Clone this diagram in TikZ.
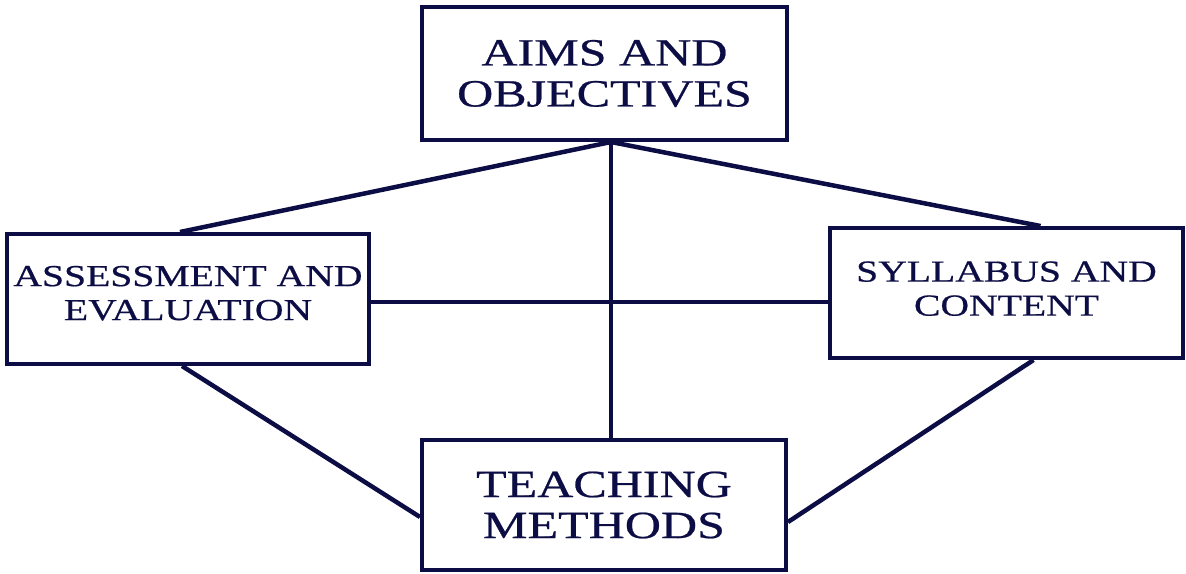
\documentclass[tikz,border=0pt]{standalone}
\usepackage{fontspec}
\setmainfont{Liberation Serif}
\newfontfamily\boxfont[FakeStretch=1.3, FakeBold=0.6]{Liberation Serif}
\usetikzlibrary{positioning}
\definecolor{navy}{HTML}{0D0D45}
% extra depth below a label lifts it inside its box
\newcommand{\lift}[1]{\rule[-#1]{0pt}{#1}}

\begin{document}
\begin{tikzpicture}[x=1pt, y=-1pt,
    box/.style={draw=navy, line width=4pt, text=navy, align=center, inner sep=0pt},
    big/.style={box, font=\boxfont\fontsize{38.5}{41}\selectfont},
    small/.style={box, font=\boxfont\fontsize{30.5}{34}\selectfont},
    link/.style={draw=navy, line width=4.5pt}]
        \useasboundingbox (0,0) rectangle (1186,573);

        \node[big, minimum width=365pt, minimum height=133pt] (aims) at (604.5,73.5) {AIMS AND\\OBJECTIVES};
        \node[small, minimum width=362pt, minimum height=130pt] (assess) at (188,299) {ASSESSMENT AND\\EVALUATION\lift{12pt}};
        \node[small, minimum width=353pt, minimum height=130pt] (syll) at (1006.5,293) {SYLLABUS AND\\CONTENT\lift{9pt}};
        \node[big, minimum width=364pt, minimum height=130pt] (teach) at (604,505) {TEACHING\\METHODS};

        % spokes from the top box
        \draw[link] ([xshift=6.5pt]aims.south) -- ([xshift=-8pt]assess.north);
        \draw[link] ([xshift=6.5pt]aims.south) -- ([xshift=34pt]syll.north);
        \draw[link] ([xshift=6.5pt]aims.south) -- ([xshift=7pt]teach.north);
        % cross bar and lower sides
        \draw[link] ([yshift=-3pt]assess.east) -- ([yshift=-3pt]assess.east -| syll.west);
        \draw[link] ([xshift=-6pt]assess.south) -- ([yshift=-12pt]teach.west);
        \draw[link] ([xshift=27pt]syll.south) -- ([yshift=-17pt]teach.east);
\end{tikzpicture}
\end{document}
